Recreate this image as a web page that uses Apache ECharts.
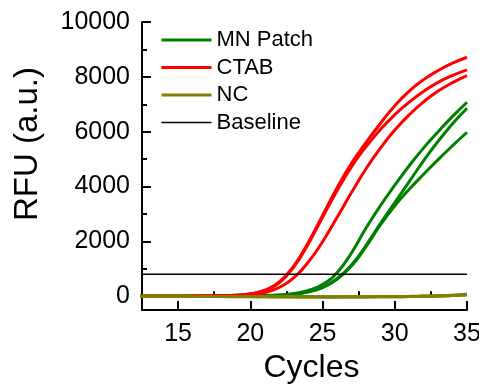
<!DOCTYPE html>
<html>
<head>
<meta charset="utf-8">
<script src="https://cdn.jsdelivr.net/npm/echarts@6/dist/echarts.min.js"></script>
<style>
  html, body { margin: 0; padding: 0; background: #fff; }
  #chart { width: 479px; height: 384px; }
</style>
</head>
<body>
<div id="chart"></div>
<script>
// amplification data, one value per cycle
var cycles = [12,13,14,15,16,17,18,19,20,21,22,23,24,25,26,27,28,29,30,31,32,33,34,35];

var mnPatch1 = [0,0,1,2,3,4,5,8,14,25,50,100,210,430,860,1580,2480,3300,4050,4760,5410,6000,6560,7075];
var mnPatch2 = [0,0,1,1,2,2,3,6,10,18,36,75,160,330,640,1140,1850,2650,3420,4180,4950,5650,6290,6856];
var mnPatch3 = [0,0,1,1,2,2,3,6,10,18,36,75,160,320,620,1100,1800,2600,3300,3900,4450,4980,5490,5981];

var ctab1 = [0,0,2,5,8,12,20,40,90,220,520,1100,1950,2950,3950,4850,5600,6300,6950,7480,7900,8230,8500,8716];
var ctab2 = [0,0,2,5,8,12,20,38,85,205,490,1060,1900,2880,3850,4720,5450,6080,6620,7080,7470,7800,8050,8253];
var ctab3 = [0,0,1,3,5,8,14,28,58,135,320,670,1240,1990,2870,3780,4640,5400,6060,6620,7090,7480,7790,8045];

var nc1 = [0,0,0,0,-5,-5,-8,-10,-12,-15,-18,-20,-20,-22,-22,-20,-20,-18,-15,-10,0,10,30,55];
var nc2 = [0,0,0,0,-3,-5,-6,-8,-10,-12,-14,-16,-18,-18,-18,-16,-15,-12,-8,-2,8,20,40,70];
var nc3 = [-5,-5,-5,-6,-8,-10,-12,-14,-16,-18,-20,-22,-24,-25,-25,-24,-22,-20,-16,-10,-2,8,25,45];

var baselineCycles = [12.5, 35];
var baselineValue = 800;

var xTicks = [15, 20, 25, 30, 35];
var xMinorTicks = [17.5, 22.5, 27.5, 32.5];
var yTicks = [0, 2000, 4000, 6000, 8000, 10000];
var yMinorTicks = [1000, 3000, 5000, 7000, 9000];

var fontFamily = '"Liberation Sans", Arial, sans-serif';

function curve(name, values, color) {
  return {
    name: name,
    type: 'line',
    smooth: true,
    symbol: 'none',
    data: cycles.map(function (c, i) { return [c, values[i]]; }),
    lineStyle: { color: color, width: 3 },
    itemStyle: { color: color }
  };
}

function plain(v) { return String(v); }

var chart = echarts.init(document.getElementById('chart'));

var option = {
  animation: false,
  textStyle: { fontFamily: fontFamily },
  grid: { left: 142, right: 12, top: 22, bottom: 74, outerBoundsMode: 'none' },
  legend: {
    orient: 'vertical',
    left: 155,
    top: 24,
    itemWidth: 50,
    itemHeight: 14,
    itemGap: 5.5,
    itemStyle: { opacity: 0 },
    textStyle: { fontSize: 22, lineHeight: 22, color: '#000', fontFamily: fontFamily },
    data: [
      { name: 'MN Patch', lineStyle: { width: 3 } },
      { name: 'CTAB', lineStyle: { width: 3 } },
      { name: 'NC', lineStyle: { width: 3 } },
      { name: 'Baseline', lineStyle: { width: 1.5 } }
    ]
  },
  xAxis: [{
    type: 'value',
    min: 12.5,
    max: 35,
    position: 'bottom',
    name: 'Cycles',
    nameLocation: 'middle',
    nameGap: 42,
    nameTextStyle: { fontSize: 32, color: '#000', padding: [0, 0, 0, 14] },
    axisLine: { onZero: false, lineStyle: { color: '#000', width: 2 } },
    axisTick: { inside: true, length: 9, customValues: xTicks, lineStyle: { color: '#000', width: 2 } },
    axisLabel: { customValues: xTicks, formatter: plain, fontSize: 25, color: '#000', margin: 12 },
    splitLine: { show: false }
  }, {
    type: 'value',
    min: 12.5,
    max: 35,
    position: 'bottom',
    axisLine: { show: false },
    axisTick: { inside: true, length: 5, customValues: xMinorTicks, lineStyle: { color: '#000', width: 2 } },
    axisLabel: { show: false },
    splitLine: { show: false }
  }],
  yAxis: [{
    type: 'value',
    min: -500,
    max: 10000,
    position: 'left',
    name: 'RFU (a.u.)',
    nameLocation: 'middle',
    nameGap: 98,
    nameTextStyle: { fontSize: 33, color: '#000', padding: [0, 0, 0, 44] },
    axisLine: { onZero: false, lineStyle: { color: '#000', width: 2 } },
    axisTick: { inside: true, length: 9, customValues: yTicks, lineStyle: { color: '#000', width: 2 } },
    axisLabel: { customValues: yTicks, formatter: plain, fontSize: 25, color: '#000', margin: 12 },
    splitLine: { show: false }
  }, {
    type: 'value',
    min: -500,
    max: 10000,
    position: 'left',
    axisLine: { show: false },
    axisTick: { inside: true, length: 5, customValues: yMinorTicks, lineStyle: { color: '#000', width: 2 } },
    axisLabel: { show: false },
    splitLine: { show: false }
  }],
  series: [
    curve('MN Patch', mnPatch1, '#008000'),
    curve('MN Patch', mnPatch2, '#008000'),
    curve('MN Patch', mnPatch3, '#008000'),
    curve('CTAB', ctab1, '#ff0000'),
    curve('CTAB', ctab2, '#ff0000'),
    curve('CTAB', ctab3, '#ff0000'),
    curve('NC', nc1, '#808000'),
    curve('NC', nc2, '#808000'),
    curve('NC', nc3, '#808000'),
    {
      name: 'Baseline',
      type: 'line',
      symbol: 'none',
      data: baselineCycles.map(function (c) { return [c, baselineValue]; }),
      lineStyle: { color: '#000', width: 1.5 },
      itemStyle: { color: '#000' }
    }
  ]
};

chart.setOption(option);
</script>
</body>
</html>
